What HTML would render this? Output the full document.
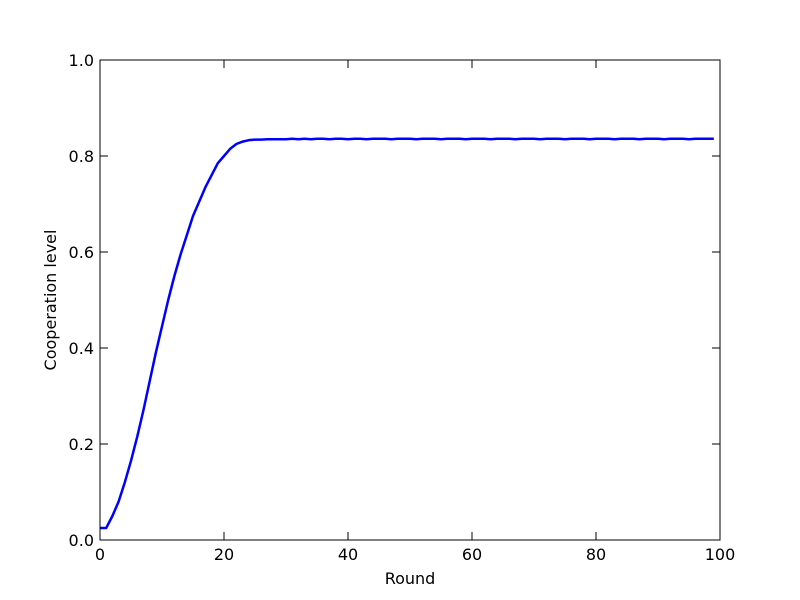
<!DOCTYPE html>
<html><head><meta charset="utf-8"><style>
body{margin:0;background:#fff;}
svg{display:block;font-family:"DejaVu Sans","Liberation Sans",sans-serif;}
</style></head><body>
<svg id="chart" width="800" height="600">
<rect width="800" height="600" fill="#fff"/>
<g id="ticks"></g>
<polyline id="line" fill="none" stroke="#0000ff" stroke-width="2.5" stroke-linejoin="round"/>
<rect x="100" y="60" width="620" height="480" fill="none" stroke="#000" stroke-width="1"/>
<text x="410" y="584" font-size="16" text-anchor="middle">Round</text>
<text transform="translate(56,300) rotate(-90)" font-size="16" text-anchor="middle">Cooperation level</text>
</svg>
<script>
const xTicks=[0,20,40,60,80,100];
const yTicks=[0.0,0.2,0.4,0.6,0.8,1.0];
const yTickLabels=["0.0","0.2","0.4","0.6","0.8","1.0"];
const rise=[0.025,0.025,0.05,0.08,0.12,0.165,0.215,0.27,0.33,0.39,0.445,0.50,0.55,0.595,0.635,0.675,0.705,0.735,0.76,0.785,0.80,0.815,0.825,0.83,0.833,0.834,0.834,0.835,0.835,0.835];
const plateau=[0.835,0.836,0.835,0.836,0.835,0.836,0.836,0.835,0.836,0.836,0.835,0.836,0.836,0.835,0.836,0.836,0.836,0.835,0.836,0.836,0.836,0.835,0.836,0.836,0.836,0.835,0.836,0.836,0.836,0.835,0.836,0.836,0.836,0.835,0.836,0.836,0.836,0.835,0.836,0.836,0.836,0.835,0.836,0.836,0.836,0.835,0.836,0.836,0.836,0.835,0.836,0.836,0.836,0.835,0.836,0.836,0.836,0.835,0.836,0.836,0.836,0.835,0.836,0.836,0.836,0.835,0.836,0.836,0.836,0.836];
const values=rise.concat(plateau);
function sx(v){return 100+v/100*620;}
function sy(v){return 540-v*480;}
const NS="http://www.w3.org/2000/svg";
const g=document.getElementById('ticks');
function mk(tag,attrs){const e=document.createElementNS(NS,tag);for(const k in attrs)e.setAttribute(k,attrs[k]);g.appendChild(e);return e;}
xTicks.forEach(t=>{
  const x=sx(t);
  const a=mk('line',{x1:x,x2:x,y1:540,y2:532,stroke:'#000'});
  
  
  const b=mk('line',{x1:x,x2:x,y1:60,y2:68,stroke:'#000'});
  
  
  const l=mk('text',{x:x,y:560,'font-size':16,'text-anchor':'middle'});
  l.textContent=String(t);
  
  
});
yTicks.forEach((t,i)=>{
  const y=sy(t);
  const a=mk('line',{x1:100,x2:108,y1:y,y2:y,stroke:'#000'});
  
  
  const b=mk('line',{x1:712,x2:720,y1:y,y2:y,stroke:'#000'});
  
  
  const l=mk('text',{x:94,y:y+6,'font-size':16,'text-anchor':'end'});
  l.textContent=yTickLabels[i];
  
  
});
document.getElementById('line').setAttribute('points',values.map((v,i)=>sx(i)+','+sy(v)).join(' '));
</script>
</body></html>
